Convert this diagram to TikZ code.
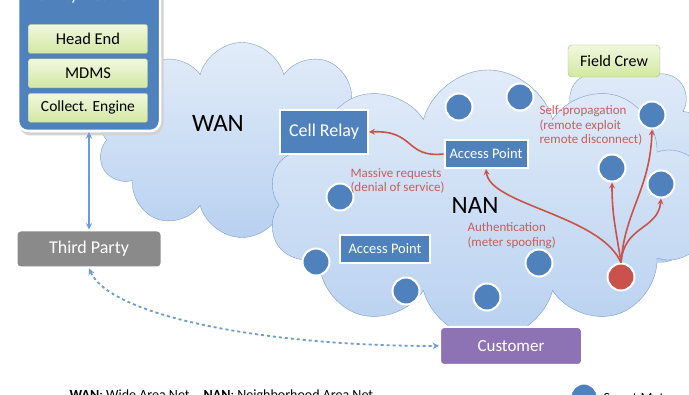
\documentclass[tikz,border=0pt]{standalone}
\usepackage{fontspec}
\setmainfont{Carlito}
\usetikzlibrary{positioning,shapes.symbols,arrows}
\definecolor{bleu}{HTML}{4F81BD}
\definecolor{bleuclair}{HTML}{6C9BD2}
\definecolor{nuagehaut}{HTML}{E2ECF9}
\definecolor{nuagebas}{HTML}{B8D1F0}
\definecolor{nuagebord}{HTML}{7C9DC6}
\definecolor{rouge}{HTML}{C9534A}
\definecolor{rougetexte}{HTML}{C4615C}
\definecolor{vertclair}{HTML}{F1F8DE}
\definecolor{vertfonce}{HTML}{D3E7A3}
\definecolor{vertbord}{HTML}{A9BC84}
\definecolor{gris}{HTML}{8A8A8A}
\definecolor{violet}{HTML}{8D73B3}

\tikzset{
  nuage/.style={cloud, cloud puffs=10, cloud ignores aspect, draw=nuagebord, thin,
    top color=nuagehaut, bottom color=nuagebas},
  boite/.style={draw=white, line width=2pt, fill=bleu, text=white, inner sep=0pt},
  vertbox/.style={draw=vertbord, rounded corners=2pt, top color=vertclair, bottom color=vertfonce,
    minimum width=119pt, minimum height=29pt, font=\fontsize{16.5}{18}\selectfont},
  compteur/.style={circle, draw=white, line width=2pt, fill=bleu, minimum size=27pt, inner sep=0pt},
  attaque/.style={->, >=stealth, draw=rouge, line width=1.6pt},
  legende/.style={text=rougetexte, align=left, font=\fontsize{13}{14.5}\selectfont}
}

\begin{document}
\begin{tikzpicture}[x=1pt,y=-1pt]
\useasboundingbox (0,0) rectangle (689,395); % taille de l'image
\clip (0,0) rectangle (689,395);
\fill[white] (0,0) rectangle (689,395);

% les nuages
\node[nuage, minimum width=290pt, minimum height=195pt] (wan) at (242,140) {};
\node[nuage, minimum width=175pt, minimum height=215pt] (terrain) at (628,168) {};
\node[nuage, minimum width=440pt, minimum height=270pt] (nan) at (488,205) {};
\node[font=\fontsize{25}{27}\selectfont] (twan) at (218,123) {WAN};
\node[font=\fontsize{25}{27}\selectfont] (tnan) at (475,205) {NAN};

% le réseau de l'exploitant
\draw[gray!35, line width=3pt, rounded corners=11pt] (20,-30) rectangle (162,134);
\node[draw=white, line width=2.5pt, fill=bleu, rounded corners=10pt,
  minimum width=142pt, minimum height=162pt] (util) at (89,50) {};
\node[text=white, font=\fontsize{17}{19}\selectfont] (tutil) at (89,-4) {Utility Network};
\node[vertbox] (head) at (88,39) {Head End};
\node[vertbox, below=5pt of head] (mdms) {MDMS};
\node[vertbox, below=5pt of mdms, font=\fontsize{15.5}{17}\selectfont] (collect) {Collect. Engine};

\node[draw=white, line width=2pt, fill=gris, rounded corners=4pt, text=white,
  minimum width=145pt, minimum height=37pt, font=\fontsize{18}{20}\selectfont] (tiers) at (89,249) {Third Party};
\node[draw=white, line width=2pt, fill=violet, rounded corners=4pt, text=white,
  minimum width=142pt, minimum height=38pt, font=\fontsize{17}{19}\selectfont] (client) at (511,346) {Customer};
\node[draw=vertbord, rounded corners=4pt, top color=vertclair, bottom color=vertfonce,
  minimum width=92pt, minimum height=32pt, font=\fontsize{16}{18}\selectfont] (equipe) at (614,61) {Field Crew};

% relais et points d'accès
\node[boite, minimum width=88pt, minimum height=44pt, font=\fontsize{18}{20}\selectfont] (relais) at (324,132) {Cell Relay};
\node[boite, minimum width=83pt, minimum height=28pt, font=\fontsize{14.5}{16}\selectfont] (ap1) at (486,154) {Access Point};
\node[boite, minimum width=90pt, minimum height=28pt, font=\fontsize{14.5}{16}\selectfont] (ap2) at (385,249) {Access Point};

% les compteurs
\node[compteur] (c1) at (459,107) {};
\node[compteur] (c2) at (520,97) {};
\node[compteur] (c3) at (652,115) {};
\node[compteur] (c4) at (612,168) {};
\node[compteur] (c5) at (661,184) {};
\node[compteur] (c6) at (340,197) {};
\node[compteur] (c7) at (316,262) {};
\node[compteur] (c8) at (406,291) {};
\node[compteur] (c9) at (487,297) {};
\node[compteur] (c10) at (539,263) {};
\node[compteur, fill=rouge] (pirate) at (621,277) {};

% les liaisons
\draw[<->, >=stealth, bleuclair, line width=1.8pt] (util.south) -- (tiers.north);
\draw[<->, >=stealth, bleuclair, line width=1.8pt, dashed] (tiers.south) .. controls (110,315) and (260,346) .. (client.west);

\draw[attaque] (ap1.west) .. controls (405,158) and (415,130) .. (relais.east);
\draw[attaque] (pirate.north) .. controls (600,215) and (490,205) .. (ap1.south);
\draw[attaque] (pirate.north) .. controls (616,230) and (612,215) .. (c4.south);
\draw[attaque] (pirate.north) .. controls (625,210) and (650,190) .. (c3.south);
\draw[attaque] (pirate.north) .. controls (624,225) and (658,230) .. (c5.south);

\node[legende, anchor=north west] (t1) at (347,165) {Massive requests\\(denial of service)};
\node[legende, anchor=north west] (t2) at (464,219) {Authentication\\(meter spoofing)};
\node[legende, anchor=north west] (t3) at (536,102) {Self-propagation\\(remote exploit\\remote disconnect)};

% la légende du bas
\node[anchor=west, font=\fontsize{14}{16}\selectfont] (leg1) at (66,396) {\textbf{WAN}: Wide Area Net\quad\textbf{NAN}: Neighborhood Area Net};
\node[compteur] (cleg) at (584,397) {};
\node[anchor=west, font=\fontsize{14}{16}\selectfont] (leg2) at (600,398) {Smart Meter};
\end{tikzpicture}
\end{document}
